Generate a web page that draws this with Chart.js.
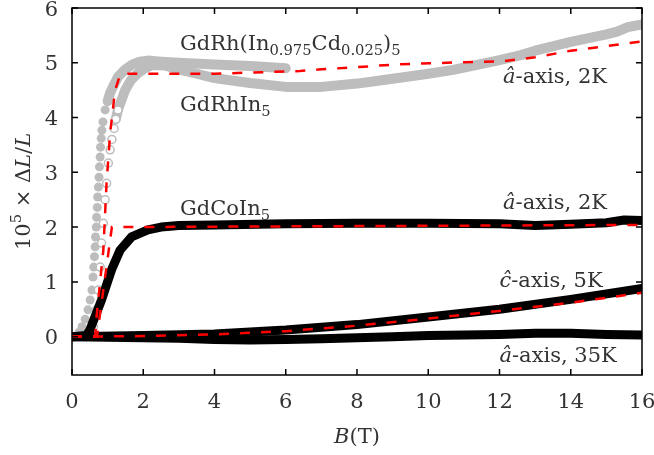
<!DOCTYPE html>
<html>
<head>
<meta charset="utf-8">
<script src="https://cdn.jsdelivr.net/npm/chart.js@4"></script>
<style>
  body { margin: 0; background: #fff; }
</style>
</head>
<body>
<canvas id="chart" width="654" height="455"></canvas>
<script>
// Magnetostriction data (B in T, 10^5 dL/L)

// GdRh(In0.975Cd0.025)5, filled grey circles
const cdB = [0.08, 0.2, 0.28, 0.37, 0.45, 0.51, 0.56, 0.59, 0.61, 0.63, 0.65, 0.66, 0.68, 0.69, 0.71, 0.72, 0.74, 0.76, 0.77, 0.79, 0.8, 0.82, 0.84, 0.87, 0.93, 1.0, 1.07, 1.18, 1.29, 1.48, 1.68, 1.9, 2.13, 2.5, 3.0, 4.0, 5.0, 6.0];
const cdL = [0, 0.08, 0.18, 0.32, 0.49, 0.67, 0.85, 1.09, 1.27, 1.46, 1.64, 1.82, 2.0, 2.18, 2.36, 2.55, 2.73, 2.91, 3.1, 3.28, 3.46, 3.62, 3.77, 3.92, 4.14, 4.3, 4.45, 4.6, 4.74, 4.87, 4.96, 5.02, 5.04, 5.02, 5.0, 4.97, 4.94, 4.9];

// GdRhIn5, open grey circles
const rhB = [0.4, 0.5, 0.6, 0.69, 0.74, 0.79, 0.83, 0.88, 0.93, 0.97, 1.02, 1.07, 1.12, 1.18, 1.23, 1.29, 1.38, 1.49, 1.65, 1.85, 2.05, 2.25, 2.6, 3.0, 3.5, 4.0, 5.0, 6.0, 7.0, 8.0, 8.8, 10.0, 10.7, 12.0, 12.6, 13.0, 14.0, 15.0, 15.3, 15.6, 16.0];
const rhL = [0.0, 0.05, 0.18, 0.49, 0.85, 1.27, 1.71, 2.07, 2.5, 2.8, 3.17, 3.41, 3.6, 3.8, 3.97, 4.14, 4.3, 4.5, 4.68, 4.81, 4.9, 4.96, 4.95, 4.88, 4.8, 4.72, 4.63, 4.56, 4.56, 4.62, 4.69, 4.8, 4.87, 5.05, 5.14, 5.22, 5.38, 5.52, 5.57, 5.65, 5.7];

// fit for the Rh compounds, red dashed
const rhFitB = [0, 0.65, 0.69, 0.88, 0.97, 1.07, 1.21, 1.35, 1.5, 4.0, 6.4, 7.0, 8.0, 9.1, 11.0, 12.1, 13.0, 14.0, 16.0];
const rhFitL = [0, 0, 0.37, 1.58, 2.8, 3.71, 4.5, 4.78, 4.8, 4.8, 4.85, 4.88, 4.92, 4.97, 5.01, 5.03, 5.1, 5.22, 5.39];

// GdCoIn5, a-axis 2K
const coB = [0, 0.4, 0.5, 0.83, 1.11, 1.35, 1.67, 2.13, 2.5, 3.0, 4.0, 6.0, 8.0, 10.0, 12.0, 13.0, 14.0, 15.0, 15.5, 16.0];
const coL = [0, 0.02, 0.12, 0.67, 1.22, 1.58, 1.82, 1.95, 2.0, 2.03, 2.04, 2.06, 2.07, 2.07, 2.06, 2.03, 2.05, 2.08, 2.13, 2.12];
const coFitB = [0, 0.7, 1.12, 16.0];
const coFitL = [0, 0, 2.0, 2.04];

// GdCoIn5, c-axis 5K
const cAxisB = [0, 2, 4, 6, 8, 10, 12, 14, 16];
const cAxisL = [0, 0.02, 0.05, 0.12, 0.22, 0.36, 0.5, 0.68, 0.88];
const cFitB = [0, 2, 4, 6, 8, 10, 12, 14, 16];
const cFitL = [0, 0.01, 0.04, 0.1, 0.2, 0.33, 0.47, 0.62, 0.8];

// GdCoIn5, a-axis 35K
const a35B = [0, 1, 2, 3, 4, 5, 6, 7, 8, 9, 10, 11, 12, 13, 14, 15, 16];
const a35L = [0, -0.01, -0.02, -0.03, -0.05, -0.06, -0.05, -0.04, -0.02, 0, 0.02, 0.03, 0.04, 0.06, 0.06, 0.04, 0.03];

const xTicks = [0, 2, 4, 6, 8, 10, 12, 14, 16];
const yTicks = [0, 1, 2, 3, 4, 5, 6];

const FONT = '"DejaVu Serif", serif';
const TEXT = '#333333';
const GREY = '#bdbdbd';

function pts(xs, ys) {
    return xs.map((v, i) => ({ x: v, y: ys[i] }));
}

function blackLine(xs, ys) {
    return {
        data: pts(xs, ys), showLine: true, borderColor: '#000', borderWidth: 9,
        pointRadius: 0, borderCapStyle: 'round', borderJoinStyle: 'round', order: 2
    };
}

function redFit(xs, ys) {
    return {
        data: pts(xs, ys), showLine: true, borderColor: '#ff0000', borderWidth: 2.5,
        borderDash: [10, 11], pointRadius: 0, order: 1
    };
}

// draws text runs: n = normal, i = italic, sub / sup = small shifted
function drawRuns(ctx, runs, x, y, size, measureOnly) {
    let cx = x;
    runs.forEach(([txt, st]) => {
        const small = st === 'sub' || st === 'sup';
        const fs = small ? size * 0.7 : size;
        ctx.font = (st === 'i' ? 'italic ' : '') + fs + 'px ' + FONT;
        const dy = st === 'sub' ? size * 0.25 : (st === 'sup' ? -size * 0.42 : 0);
        if (!measureOnly) ctx.fillText(txt, cx, y + dy);
        cx += ctx.measureText(txt).width;
    });
    return cx - x;
}

const notes = [
    { runs: [['GdRh(In', 'n'], ['0.975', 'sub'], ['Cd', 'n'], ['0.025', 'sub'], [')', 'n'], ['5', 'sub']], x: 3.03, y: 5.23 },
    { runs: [['GdRhIn', 'n'], ['5', 'sub']], x: 3.03, y: 4.12 },
    { runs: [['\u00e2', 'i'], ['-axis, 2K', 'n']], x: 12.1, y: 4.63 },
    { runs: [['GdCoIn', 'n'], ['5', 'sub']], x: 3.03, y: 2.22 },
    { runs: [['\u00e2', 'i'], ['-axis, 2K', 'n']], x: 12.1, y: 2.33 },
    { runs: [['\u0109', 'i'], ['-axis, 5K', 'n']], x: 12.0, y: 0.91 },
    { runs: [['\u00e2', 'i'], ['-axis, 35K', 'n']], x: 12.0, y: -0.46 }
];

const framePlugin = {
    id: 'frame',
    afterDraw(chart) {
        const { ctx, chartArea: a, scales: { x, y } } = chart;
        ctx.save();
        ctx.strokeStyle = '#000';
        ctx.lineWidth = 1.5;
        ctx.strokeRect(a.left, a.top, a.right - a.left, a.bottom - a.top);

        // inward ticks on all four sides
        ctx.beginPath();
        x.ticks.forEach(t => {
            const px = x.getPixelForValue(t.value);
            ctx.moveTo(px, a.bottom); ctx.lineTo(px, a.bottom - 6);
            ctx.moveTo(px, a.top); ctx.lineTo(px, a.top + 6);
        });
        y.ticks.forEach(t => {
            const py = y.getPixelForValue(t.value);
            ctx.moveTo(a.left, py); ctx.lineTo(a.left + 6, py);
            ctx.moveTo(a.right, py); ctx.lineTo(a.right - 6, py);
        });
        ctx.stroke();

        // tick labels
        ctx.fillStyle = TEXT;
        ctx.font = '21px ' + FONT;
        ctx.textAlign = 'center';
        ctx.textBaseline = 'alphabetic';
        x.ticks.forEach(t => {
            ctx.fillText(String(t.value), x.getPixelForValue(t.value), a.bottom + 33);
        });
        ctx.textAlign = 'right';
        y.ticks.forEach(t => {
            ctx.fillText(String(t.value), a.left - 14, y.getPixelForValue(t.value) + 7.5);
        });

        // axis titles
        ctx.textAlign = 'left';
        const xt = [['B', 'i'], ['(T)', 'n']];
        const w = drawRuns(ctx, xt, 0, 0, 21, true);
        drawRuns(ctx, xt, (a.left + a.right) / 2 - w / 2, a.bottom + 68, 21);

        const yt = [['10', 'n'], ['5', 'sup'], [' \u00d7 \u0394', 'n'], ['L', 'i'], ['/', 'n'], ['L', 'i']];
        const wy = drawRuns(ctx, yt, 0, 0, 21, true);
        ctx.save();
        ctx.translate(30, (a.top + a.bottom) / 2);
        ctx.rotate(-Math.PI / 2);
        drawRuns(ctx, yt, -wy / 2, 0, 21);
        ctx.restore();

        // curve labels
        notes.forEach(n => {
            drawRuns(ctx, n.runs, x.getPixelForValue(n.x), y.getPixelForValue(n.y), 21);
        });
        ctx.restore();
    }
};

new Chart(document.getElementById('chart'), {
    type: 'scatter',
    data: {
        datasets: [
            {
                // GdRh(In,Cd)5
                data: pts(cdB, cdL), showLine: true, order: 4,
                borderColor: GREY, borderWidth: 10, borderCapStyle: 'round', borderJoinStyle: 'round',
                segment: { borderColor: c => c.p0.parsed.x >= 1.0 ? GREY : 'rgba(0,0,0,0)' },
                pointRadius: c => (c.raw && c.raw.x < 1.2) ? 4.5 : 0,
                pointBackgroundColor: GREY, pointBorderWidth: 0
            },
            {
                // GdRhIn5
                data: pts(rhB, rhL), showLine: true, order: 3,
                borderColor: GREY, borderWidth: 10, borderCapStyle: 'round', borderJoinStyle: 'round',
                segment: { borderColor: c => c.p0.parsed.x >= 1.2 ? GREY : 'rgba(0,0,0,0)' },
                pointRadius: c => (c.raw && c.raw.x < 1.3) ? 4 : 0,
                pointBackgroundColor: '#fff', pointBorderColor: GREY, pointBorderWidth: 1.5
            },
            blackLine(coB, coL),
            blackLine(cAxisB, cAxisL),
            blackLine(a35B, a35L),
            redFit(rhFitB, rhFitL),
            redFit(coFitB, coFitL),
            redFit(cFitB, cFitL)
        ]
    },
    options: {
        responsive: false,
        animation: false,
        devicePixelRatio: 1,
        layout: { padding: { left: 72, right: 12, top: 8, bottom: 80 } },
        plugins: { legend: { display: false }, tooltip: { enabled: false } },
        scales: {
            x: {
                type: 'linear', min: 0, max: 16, display: false,
                afterBuildTicks: s => { s.ticks = xTicks.map(v => ({ value: v })); }
            },
            y: {
                type: 'linear', min: -0.7, max: 6, display: false,
                afterBuildTicks: s => { s.ticks = yTicks.map(v => ({ value: v })); }
            }
        }
    },
    plugins: [framePlugin]
});
</script>
</body>
</html>
